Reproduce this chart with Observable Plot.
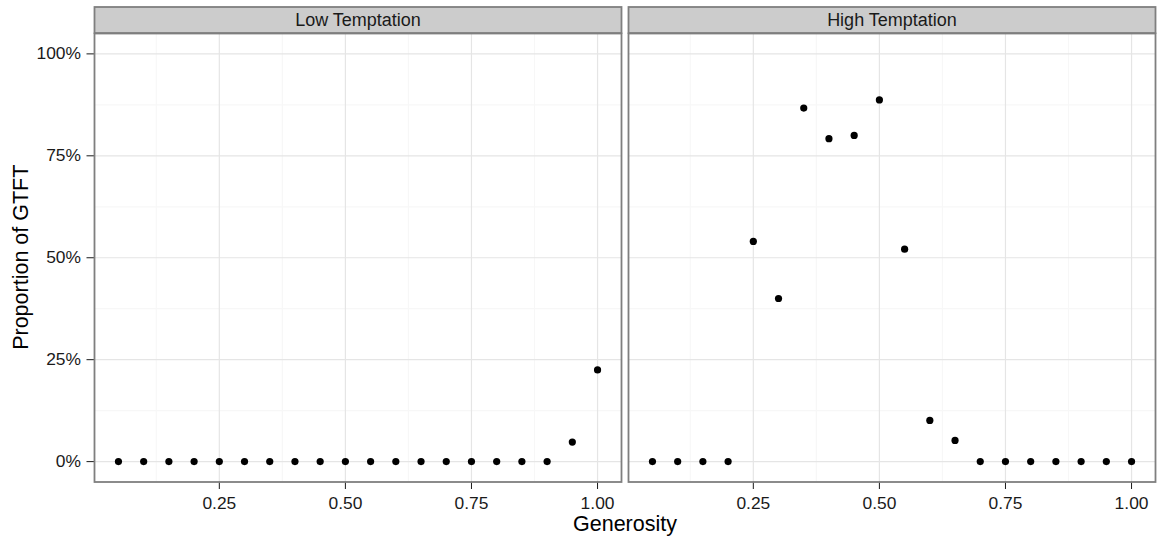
<!DOCTYPE html>
<html>
<head>
<meta charset="utf-8">
<script src="https://cdn.jsdelivr.net/npm/d3@7"></script>
<script src="https://cdn.jsdelivr.net/npm/@observablehq/plot@0.6"></script>
<style>
  html, body { margin: 0; padding: 0; background: #ffffff; }
  svg { display: block; }
</style>
</head>
<body>
<div id="chart"></div>
<script>
// ---- data ----
const panels = ["Low Temptation", "High Temptation"];
const generosity = [0.05, 0.10, 0.15, 0.20, 0.25, 0.30, 0.35, 0.40, 0.45, 0.50,
                    0.55, 0.60, 0.65, 0.70, 0.75, 0.80, 0.85, 0.90, 0.95, 1.00];
const lowTemptation = [0, 0, 0, 0, 0, 0, 0, 0, 0, 0,
                       0, 0, 0, 0, 0, 0, 0, 0, 0.048, 0.225];
const highTemptation = [0, 0, 0, 0, 0.54, 0.40, 0.867, 0.792, 0.80, 0.887,
                        0.521, 0.101, 0.052, 0, 0, 0, 0, 0, 0, 0];
const xTicks = [0.25, 0.50, 0.75, 1.00];
const xMinor = [0.125, 0.375, 0.625, 0.875];
const yTicks = [0, 0.25, 0.50, 0.75, 1.00];
const yMinor = [0.125, 0.375, 0.625, 0.875];
const xTitle = "Generosity";
const yTitle = "Proportion of GTFT";

const rows = [];
generosity.forEach((g, i) => rows.push({panel: panels[0], generosity: g, value: lowTemptation[i]}));
generosity.forEach((g, i) => rows.push({panel: panels[1], generosity: g, value: highTemptation[i]}));

const FONT = '"Liberation Sans", Arial, Helvetica, sans-serif';
const W = 1157, H = 538;

const plot = Plot.plot({
  width: W,
  height: H,
  marginLeft: 94,
  marginRight: 1,
  marginTop: 33,
  marginBottom: 56.5,
  style: {fontFamily: FONT, fontSize: "17.4px", color: "#1A1A1A", background: "#ffffff", overflow: "visible"},
  fx: {domain: panels, paddingInner: 0.0122, paddingOuter: 0, axis: null, label: null},
  x: {domain: [0.0025, 1.0475], ticks: xTicks, tickFormat: d3.format(".2f"), label: null, tickSize: 7.5, tickPadding: 7},
  y: {domain: [-0.05, 1.05], ticks: yTicks, tickFormat: d => Math.round(d * 100) + "%", label: null, tickSize: 7.5, tickPadding: 6},
  marks: [
    Plot.gridX(xMinor, {stroke: "#F7F7F7", strokeOpacity: 1, strokeWidth: 1.2}),
    Plot.gridY(yMinor, {stroke: "#F7F7F7", strokeOpacity: 1, strokeWidth: 1.2}),
    Plot.gridX(xTicks, {stroke: "#E5E5E5", strokeOpacity: 1, strokeWidth: 1.2}),
    Plot.gridY(yTicks, {stroke: "#E5E5E5", strokeOpacity: 1, strokeWidth: 1.2}),
    Plot.dot(rows, {fx: "panel", x: "generosity", y: "value", fill: "#000000", stroke: "none", r: 3.6}),
    Plot.frame({stroke: "#7F7F7F", strokeWidth: 1.8})
  ]
});

document.getElementById("chart").appendChild(plot);

// Facet strips and axis titles
const svg = d3.select(plot);
const svgBox = plot.getBoundingClientRect();
const frames = Array.from(plot.querySelectorAll("g[aria-label='frame'] rect"))
  .map(r => r.getBoundingClientRect())
  .sort((a, b) => a.left - b.left);
const stripTop = 7, stripBottom = 33;
const strips = svg.append("g").attr("aria-label", "strips");
frames.forEach((b, i) => {
  const x0 = b.left - svgBox.left, x1 = b.right - svgBox.left;
  strips.append("rect")
    .attr("x", x0).attr("y", stripTop)
    .attr("width", x1 - x0).attr("height", stripBottom - stripTop)
    .attr("fill", "#CCCCCC").attr("stroke", "#7F7F7F").attr("stroke-width", 1.8);
  strips.append("text")
    .attr("x", (x0 + x1) / 2).attr("y", (stripTop + stripBottom) / 2)
    .attr("text-anchor", "middle").attr("dy", "0.36em")
    .attr("font-family", FONT).attr("font-size", "18px").attr("fill", "#1A1A1A")
    .text(panels[i]);
});

let left = 94, right = W - 1;
if (frames.length) { left = frames[0].left - svgBox.left; right = frames[frames.length - 1].right - svgBox.left; }
svg.append("text")
  .attr("x", (left + right) / 2).attr("y", 530.5)
  .attr("text-anchor", "middle")
  .attr("font-family", FONT).attr("font-size", "21.5px").attr("fill", "#000000")
  .text(xTitle);
svg.append("text")
  .attr("transform", `translate(27.5,${(33 + 481.5) / 2}) rotate(-90)`)
  .attr("text-anchor", "middle")
  .attr("font-family", FONT).attr("font-size", "21.5px").attr("fill", "#000000")
  .text(yTitle);
</script>
</body>
</html>
